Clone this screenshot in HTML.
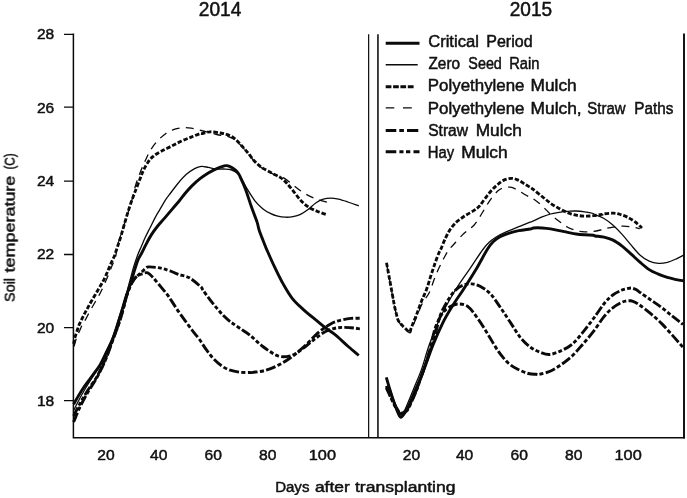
<!DOCTYPE html>
<html><head><meta charset="utf-8"><title>Soil temperature</title>
<style>
html,body{margin:0;padding:0;background:#fff;}
svg{display:block;font-family:"Liberation Sans",sans-serif;}
</style></head><body>
<svg width="687" height="498" viewBox="0 0 687 498">
<rect width="687" height="498" fill="#fff"/>
<g fill="#111" stroke="#111" stroke-width="0.5" stroke-linejoin="round" opacity="0.999" font-family="Liberation Sans, sans-serif">
<text x="198.8" y="16.2" font-size="19.8" textLength="42.6" lengthAdjust="spacingAndGlyphs">2014</text>
<text x="509.7" y="16.2" font-size="19.8" textLength="42.4" lengthAdjust="spacingAndGlyphs">2015</text>
<g font-size="15.4">
<text x="36.9" y="39.3" textLength="17.3" lengthAdjust="spacingAndGlyphs">28</text>
<text x="36.9" y="112.6" textLength="17.3" lengthAdjust="spacingAndGlyphs">26</text>
<text x="36.9" y="186.2" textLength="17.3" lengthAdjust="spacingAndGlyphs">24</text>
<text x="36.9" y="259.4" textLength="17.3" lengthAdjust="spacingAndGlyphs">22</text>
<text x="36.9" y="332.6" textLength="17.3" lengthAdjust="spacingAndGlyphs">20</text>
<text x="36.9" y="405.8" textLength="17.3" lengthAdjust="spacingAndGlyphs">18</text>
</g>
<g font-size="15.4">
<text x="97.2" y="460.2" textLength="17.4" lengthAdjust="spacingAndGlyphs">20</text>
<text x="150" y="460.2" textLength="17.4" lengthAdjust="spacingAndGlyphs">40</text>
<text x="204.6" y="460.2" textLength="17.4" lengthAdjust="spacingAndGlyphs">60</text>
<text x="259" y="460.2" textLength="17.4" lengthAdjust="spacingAndGlyphs">80</text>
<text x="308.8" y="460.2" textLength="27.2" lengthAdjust="spacingAndGlyphs">100</text>
<text x="402.8" y="460.2" textLength="17.4" lengthAdjust="spacingAndGlyphs">20</text>
<text x="455.9" y="460.2" textLength="17.4" lengthAdjust="spacingAndGlyphs">40</text>
<text x="510.5" y="460.2" textLength="17.4" lengthAdjust="spacingAndGlyphs">60</text>
<text x="565" y="460.2" textLength="17.4" lengthAdjust="spacingAndGlyphs">80</text>
<text x="614.5" y="460.2" textLength="27.2" lengthAdjust="spacingAndGlyphs">100</text>
</g>
<g font-size="15.4"><text x="275.14" y="491.5" textLength="34.29" lengthAdjust="spacingAndGlyphs">Days</text><text x="314.91" y="491.5" textLength="34.83" lengthAdjust="spacingAndGlyphs">after</text><text x="355.00" y="491.5" textLength="100.47" lengthAdjust="spacingAndGlyphs">transplanting</text></g>
<g font-size="15.4" transform="translate(14.7 302) rotate(-90)"><text x="0.11" y="0" textLength="23.95" lengthAdjust="spacingAndGlyphs">Soil</text><text x="29.60" y="0" textLength="96.74" lengthAdjust="spacingAndGlyphs">temperature</text><text x="132.40" y="0" textLength="16.33" lengthAdjust="spacingAndGlyphs">(C)</text></g>
<g font-size="16">
<text x="428.18" y="47.1" textLength="50.68" lengthAdjust="spacingAndGlyphs">Critical</text>
<text x="486.30" y="47.1" textLength="46.25" lengthAdjust="spacingAndGlyphs">Period</text>
<text x="428.46" y="69.1" textLength="31.63" lengthAdjust="spacingAndGlyphs">Zero</text>
<text x="468.35" y="69.1" textLength="33.51" lengthAdjust="spacingAndGlyphs">Seed</text>
<text x="509.18" y="69.1" textLength="30.22" lengthAdjust="spacingAndGlyphs">Rain</text>
<text x="427.85" y="91.3" textLength="96.65" lengthAdjust="spacingAndGlyphs">Polyethylene</text>
<text x="530.62" y="91.3" textLength="46.12" lengthAdjust="spacingAndGlyphs">Mulch</text>
<text x="427.85" y="113.7" textLength="96.65" lengthAdjust="spacingAndGlyphs">Polyethylene</text>
<text x="530.62" y="113.7" textLength="51.00" lengthAdjust="spacingAndGlyphs">Mulch,</text>
<text x="587.33" y="113.7" textLength="38.15" lengthAdjust="spacingAndGlyphs">Straw</text>
<text x="634.34" y="113.7" textLength="39.12" lengthAdjust="spacingAndGlyphs">Paths</text>
<text x="428.21" y="136" textLength="39.85" lengthAdjust="spacingAndGlyphs">Straw</text>
<text x="475.72" y="136" textLength="46.12" lengthAdjust="spacingAndGlyphs">Mulch</text>
<text x="427.77" y="157.8" textLength="26.35" lengthAdjust="spacingAndGlyphs">Hay</text>
<text x="461.31" y="157.8" textLength="46.33" lengthAdjust="spacingAndGlyphs">Mulch</text>
</g>
</g>
<g stroke="#0a0a0a" fill="none">
<!-- axes -->
<path d="M73.4 33.6 V437.7 H684.9" stroke-width="1.5"/>
<path d="M684 33.5 V438.4" stroke-width="1.9"/>
<path d="M64 34.3 H73.4 M64 107.2 H73.4 M64 181.2 H73.4 M64 254.5 H73.4 M64 327.6 H73.4 M64 400.7 H73.4" stroke-width="1.3"/>
<path d="M368.65 34.3 V437" stroke-width="1.2"/><path d="M377.95 34.3 V437" stroke-width="1.55"/>
<!-- legend samples -->
<path d="M385.7 43.3 H419.5" stroke-width="3"/>
<path d="M385.7 64.7 H417.7" stroke-width="1.35"/>
<path d="M385.7 86.7 H391.4 M393.1 86.7 H398.8 M400.4 86.7 H406.1 M407.8 86.7 H413.6" stroke-width="2.9"/>
<path d="M385.7 107.9 H394.3 M403 107.9 H411.8" stroke-width="1.35"/>
<path d="M385.7 130.4 H396.3 M399.3 130.4 H403.9 M407 130.4 H418.3" stroke-width="2.95"/>
<path d="M385.7 151.7 H396.3 M399.4 151.7 H403.5 M406 151.7 H410.3 M413.5 151.7 H419.5" stroke-width="2.95"/>
<!-- curves -->
<g stroke-linejoin="round">
<path d="M74.0 346.5C74.4 345.1 75.6 340.6 76.5 338.0C77.4 335.4 78.5 333.2 79.5 331.0C80.5 328.8 81.4 326.5 82.5 324.5C83.6 322.5 84.7 321.1 85.9 318.8C87.2 316.6 88.5 313.7 90.0 311.0C91.5 308.3 93.2 305.4 94.9 302.5C96.6 299.6 98.1 297.3 99.9 293.7C101.7 290.1 104.2 284.7 105.8 281.1C107.4 277.5 108.4 274.8 109.5 272.0C110.6 269.2 111.5 267.0 112.5 264.5C113.5 262.0 114.6 260.2 115.5 257.0C116.4 253.8 116.3 250.5 117.7 245.2C119.1 239.9 121.7 232.4 124.0 225.1C126.3 217.8 129.7 207.8 131.6 201.3C133.5 194.8 134.0 190.7 135.4 186.0C136.8 181.3 138.4 177.1 140.0 172.9C141.6 168.7 143.4 164.7 145.1 161.0C146.8 157.3 148.2 154.0 150.2 150.7C152.2 147.4 154.5 144.1 157.1 141.3C159.7 138.5 162.8 135.7 165.6 133.7C168.4 131.7 171.2 130.4 174.1 129.4C176.9 128.4 179.8 127.9 182.7 127.7C185.5 127.5 188.4 127.8 191.2 128.2C194.0 128.6 196.8 129.5 199.7 130.2C202.5 130.9 205.5 131.6 208.3 132.3C211.2 133.0 214.0 133.8 216.8 134.5C219.6 135.2 223.6 135.9 225.3 136.2C227.1 136.5 225.8 135.7 227.3 136.2C228.8 136.7 231.8 137.6 234.1 139.2C236.4 140.8 238.7 143.3 241.0 145.6C243.3 147.9 245.5 150.5 247.8 153.2C250.1 155.9 252.3 159.2 254.6 161.6C256.9 164.0 258.5 165.6 261.4 167.6C264.2 169.6 268.8 171.9 271.7 173.3C274.6 174.8 276.9 175.5 279.0 176.3C281.1 177.2 282.2 177.0 284.5 178.4C286.8 179.8 290.3 182.9 293.0 185.0C295.7 187.1 298.0 189.0 300.5 190.7C303.0 192.4 305.6 194.1 308.1 195.4C310.6 196.8 313.2 197.9 315.7 198.8C318.2 199.8 320.8 200.3 323.3 201.1C325.8 201.9 329.6 203.0 330.8 203.4" stroke-width="1.3" stroke-dasharray="7.9 6.3"/>
<path d="M73.6 344.0C73.7 343.7 73.8 343.3 74.0 342.2C74.2 341.1 74.5 339.0 75.0 337.2C75.5 335.4 76.3 333.1 77.0 331.1C77.7 329.1 78.2 327.0 79.0 325.1C79.8 323.2 80.7 321.5 81.6 319.6C82.5 317.7 83.6 315.5 84.6 313.6C85.6 311.7 86.5 310.1 87.6 308.1C88.7 306.1 89.9 303.8 91.2 301.5C92.5 299.2 94.2 296.4 95.5 294.2C96.8 292.0 97.9 290.1 99.1 288.1C100.3 286.1 101.5 284.1 102.6 282.1C103.7 280.1 104.6 278.3 105.6 276.1C106.6 273.9 107.6 271.5 108.6 269.1C109.6 266.8 110.6 264.3 111.6 262.0C112.6 259.7 113.7 257.9 114.6 255.5C115.5 253.1 116.3 250.2 117.2 247.5C118.1 244.8 119.0 242.4 120.0 239.3C121.0 236.2 122.0 232.4 123.0 228.9C124.0 225.4 125.1 221.8 126.0 218.6C126.9 215.4 127.7 212.8 128.6 210.0C129.5 207.2 130.4 204.3 131.4 201.5C132.4 198.7 133.2 196.8 134.6 193.0C136.0 189.2 138.5 182.7 140.0 178.9C141.5 175.1 142.1 173.0 143.4 170.3C144.7 167.6 146.1 165.0 147.7 162.7C149.3 160.4 150.7 158.5 152.8 156.7C154.9 154.8 157.5 153.3 160.5 151.6C163.5 149.9 167.3 148.2 170.7 146.5C174.1 144.8 177.6 142.9 181.0 141.3C184.4 139.7 188.1 138.4 191.2 137.1C194.3 135.8 197.9 134.3 199.7 133.7C201.4 133.1 199.9 133.9 201.7 133.6C203.4 133.3 207.1 131.9 210.2 131.8C213.3 131.7 217.7 132.5 220.5 133.0C223.3 133.5 225.0 133.8 227.3 134.7C229.6 135.6 231.8 136.5 234.1 138.2C236.4 139.9 238.7 142.6 241.0 145.0C243.3 147.4 245.5 150.0 247.8 152.7C250.1 155.4 252.3 158.8 254.6 161.2C256.9 163.6 258.5 165.2 261.4 167.2C264.2 169.2 268.6 171.4 271.7 173.1C274.8 174.8 277.7 175.8 280.2 177.4C282.7 179.1 284.3 180.7 286.5 183.0C288.7 185.3 291.2 188.5 293.5 191.3C295.8 194.2 298.1 197.5 300.5 200.1C302.9 202.7 305.2 204.9 308.1 206.8C311.0 208.7 314.5 210.2 317.6 211.5C320.8 212.8 325.4 214.2 327.0 214.7" stroke-width="2.85" stroke-dasharray="4.4 1.9"/>
<path d="M73.6 410.5C75.0 407.8 79.2 399.2 82.2 394.0C85.2 388.8 88.3 383.8 91.3 379.0C94.3 374.2 98.1 369.0 100.3 365.0C102.5 361.0 102.5 359.4 104.5 355.0C106.5 350.6 109.8 344.5 112.2 338.3C114.6 332.1 116.6 324.8 118.9 317.8C121.2 310.8 124.0 302.2 125.8 296.3C127.6 290.4 128.2 286.9 129.5 282.2C130.8 277.5 132.0 272.6 133.3 268.1C134.6 263.6 136.2 258.9 137.5 255.4C138.8 251.9 139.8 250.0 141.1 247.0C142.4 244.0 143.8 240.5 145.3 237.3C146.8 234.1 148.5 230.9 150.1 227.7C151.7 224.5 153.3 221.1 154.9 218.1C156.5 215.1 158.1 212.5 159.8 209.6C161.5 206.7 163.7 202.8 165.2 200.4C166.7 198.0 166.9 197.8 169.0 195.1C171.1 192.4 174.7 187.4 177.5 184.0C180.3 180.6 183.2 177.2 186.1 174.6C188.9 172.0 192.0 170.0 194.6 168.6C197.2 167.2 199.1 166.6 201.4 166.4C203.7 166.2 206.0 167.0 208.3 167.4C210.6 167.8 212.6 168.7 215.1 169.0C217.6 169.3 221.0 168.9 223.6 169.0C226.2 169.1 228.4 169.0 230.4 169.5C232.4 170.0 234.0 170.9 235.6 172.0C237.2 173.1 238.0 173.4 240.0 176.3C242.0 179.2 245.1 185.6 247.6 189.7C250.1 193.8 252.6 197.9 255.1 201.1C257.6 204.3 260.2 206.6 262.7 208.7C265.2 210.8 267.8 212.2 270.3 213.4C272.8 214.7 275.3 215.6 277.8 216.2C280.3 216.8 282.9 217.1 285.4 217.2C287.9 217.3 290.5 217.1 293.0 216.6C295.5 216.1 298.0 215.5 300.5 214.3C303.0 213.1 305.6 211.5 308.1 209.6C310.6 207.7 313.2 204.7 315.7 203.0C318.2 201.3 320.8 200.0 323.3 199.2C325.8 198.4 328.3 198.2 330.8 198.2C333.3 198.2 335.5 198.6 338.4 199.2C341.2 199.8 344.5 200.9 347.9 202.0C351.3 203.1 357.0 205.2 358.8 205.8" stroke-width="1.3"/>
<path d="M73.6 404.2C75.0 401.8 79.2 394.2 82.2 389.7C85.2 385.2 88.3 381.3 91.3 377.1C94.3 372.9 98.0 368.2 100.3 364.4C102.6 360.6 103.2 358.9 105.3 354.5C107.4 350.1 110.6 344.4 113.0 338.3C115.4 332.2 117.6 324.8 119.8 317.8C122.0 310.8 124.3 302.2 126.2 296.3C128.1 290.4 129.4 286.9 130.9 282.2C132.4 277.5 134.0 271.9 135.2 268.1C136.4 264.3 137.0 262.1 138.1 259.6C139.2 257.1 140.4 255.5 141.7 253.0C143.0 250.5 144.3 247.6 145.9 244.6C147.5 241.6 149.4 237.9 151.3 234.9C153.2 231.9 155.1 229.3 157.3 226.5C159.5 223.7 162.2 220.9 164.6 218.1C167.0 215.3 169.4 212.4 171.8 209.6C174.2 206.8 176.8 203.8 179.0 201.2C181.2 198.6 182.8 196.2 184.8 193.8C186.8 191.4 188.7 189.1 191.2 186.6C193.7 184.1 196.8 181.2 199.7 178.9C202.5 176.6 205.5 174.6 208.3 172.9C211.2 171.2 214.2 169.7 216.8 168.6C219.4 167.5 221.9 166.6 223.6 166.1C225.3 165.6 225.6 165.4 227.0 165.7C228.4 166.0 230.5 166.8 232.2 167.8C233.9 168.9 236.0 170.6 237.3 172.0C238.6 173.4 238.6 173.6 240.0 176.5C241.4 179.4 243.8 184.6 245.7 189.7C247.6 194.8 249.5 201.4 251.4 206.8C253.3 212.2 255.7 218.0 257.0 221.9C258.3 225.8 258.1 226.9 259.1 230.0C260.1 233.1 261.8 237.3 263.0 240.3C264.2 243.3 264.2 243.8 266.1 248.1C268.0 252.4 271.5 260.5 274.2 266.2C276.9 271.9 279.2 276.8 282.2 282.2C285.2 287.6 288.5 293.6 292.2 298.3C295.9 303.0 300.3 306.7 304.3 310.4C308.3 314.1 312.7 317.4 316.4 320.4C320.1 323.4 323.2 326.0 326.4 328.5C329.6 331.0 332.1 332.2 335.7 335.2C339.3 338.2 344.3 343.1 348.2 346.5C352.1 349.9 357.0 353.8 358.8 355.3" stroke-width="2.9"/>
<path d="M73.6 416.0C74.7 413.9 77.6 407.8 80.0 403.5C82.4 399.2 85.2 394.4 88.0 390.0C90.8 385.6 94.4 381.1 96.7 377.1C99.0 373.1 100.5 369.5 102.1 366.2C103.6 362.9 104.2 362.1 106.0 357.5C107.8 352.9 111.2 343.9 113.2 338.5C115.2 333.1 116.9 328.8 118.2 325.0C119.5 321.2 120.1 319.2 121.1 316.0C122.1 312.8 123.1 308.8 124.0 305.5C124.9 302.2 125.4 299.5 126.4 296.3C127.4 293.1 128.8 289.2 130.0 286.4C131.2 283.6 132.4 281.3 133.6 279.6C134.8 277.9 135.9 277.1 137.1 276.0C138.3 274.9 139.5 274.2 140.8 273.0C142.1 271.8 143.7 269.8 145.0 268.8C146.3 267.8 146.6 267.1 148.5 266.9C150.4 266.7 153.8 267.1 156.3 267.4C158.8 267.7 161.0 268.2 163.3 268.8C165.6 269.4 167.5 270.0 170.0 270.9C172.5 271.8 175.1 273.2 178.3 274.4C181.5 275.5 185.7 275.8 189.4 277.8C193.1 279.9 198.4 284.7 200.7 286.7C202.9 288.7 201.4 287.9 202.9 290.0C204.4 292.1 207.4 296.4 209.7 299.4C212.0 302.4 214.3 305.2 216.6 307.9C218.9 310.6 221.1 313.3 223.4 315.6C225.7 317.9 227.6 319.6 230.2 321.6C232.8 323.6 235.4 325.2 238.7 327.5C242.0 329.8 246.0 332.0 250.0 335.2C254.0 338.4 258.2 343.1 262.8 346.5C267.4 349.9 273.3 354.2 277.9 355.8C282.5 357.4 286.7 356.7 290.5 355.8C294.3 354.9 296.7 352.9 300.5 350.3C304.3 347.7 308.9 343.4 313.1 340.3C317.3 337.2 321.4 333.6 325.6 331.5C329.8 329.4 334.0 328.3 338.2 327.7C342.4 327.1 347.2 327.5 350.8 327.7C354.4 327.9 358.5 328.7 360.0 328.9" stroke-width="2.9" stroke-dasharray="9.5 2.2 3.9 2.2 3.9 2.2"/>
<path d="M73.6 422.0C74.7 419.5 77.6 412.0 80.0 407.0C82.4 402.0 85.2 396.8 88.0 392.0C90.8 387.2 94.3 382.2 96.7 378.0C99.1 373.8 100.7 370.3 102.3 367.0C103.9 363.7 104.4 362.8 106.3 358.0C108.2 353.2 111.4 344.0 113.4 338.5C115.4 333.0 117.1 328.8 118.4 325.0C119.7 321.2 120.3 319.2 121.3 316.0C122.3 312.8 123.3 308.8 124.2 305.5C125.1 302.2 125.6 299.5 126.6 296.3C127.6 293.1 129.0 289.1 130.2 286.4C131.4 283.6 132.6 281.5 133.8 279.8C135.0 278.1 135.9 277.0 137.3 276.0C138.7 275.0 140.4 274.4 142.2 273.9C143.9 273.4 145.9 272.1 147.8 272.8C149.7 273.5 151.3 275.7 153.4 278.0C155.5 280.3 158.2 283.6 160.5 286.4C162.8 289.2 165.6 292.3 167.5 294.9C169.4 297.5 170.3 299.0 172.2 301.9C174.1 304.8 176.7 308.9 179.0 312.2C181.3 315.5 183.5 318.5 185.8 321.6C188.1 324.7 190.4 328.0 192.7 331.0C195.0 334.0 197.2 336.4 199.5 339.5C201.8 342.6 204.0 346.6 206.3 349.7C208.6 352.8 210.5 355.6 213.1 358.3C215.7 361.0 218.8 363.9 221.7 365.9C224.5 367.9 227.1 369.1 230.2 370.2C233.3 371.3 237.1 371.9 240.4 372.3C243.7 372.7 247.9 372.5 250.0 372.5C252.1 372.5 250.2 372.8 252.8 372.4C255.4 372.0 261.1 371.6 265.3 370.4C269.5 369.2 273.7 367.5 277.9 365.4C282.1 363.3 285.9 361.1 290.5 357.8C295.1 354.5 300.9 349.5 305.5 345.3C310.1 341.1 313.9 336.3 318.1 332.7C322.3 329.1 326.9 326.0 330.7 323.9C334.5 321.8 337.3 321.1 340.7 320.2C344.1 319.3 347.6 318.7 350.8 318.4C354.0 318.1 358.5 318.2 360.0 318.2" stroke-width="2.9" stroke-dasharray="10 2.3 4.1 2.3"/>
<path d="M386.5 263.5C386.9 265.3 387.9 270.7 388.6 274.5C389.3 278.3 389.9 281.2 390.8 286.3C391.7 291.4 393.3 300.3 394.2 305.0C395.1 309.7 395.8 312.0 396.4 314.5C397.0 317.0 397.2 318.5 397.8 320.0C398.4 321.5 399.2 322.4 400.0 323.5C400.8 324.6 401.7 325.4 402.7 326.4C403.7 327.4 404.8 328.4 406.0 329.5C407.2 330.6 408.9 332.9 409.8 332.8C410.7 332.7 410.9 330.6 411.6 329.0C412.3 327.4 412.9 326.0 414.0 323.4C415.1 320.8 416.8 316.5 418.2 313.1C419.6 309.7 420.7 306.4 422.5 303.0C424.3 299.6 427.2 296.7 429.2 292.7C431.2 288.7 432.7 283.0 434.3 279.0C435.9 275.0 437.0 272.2 438.6 268.8C440.2 265.4 442.1 261.5 443.7 258.5C445.3 255.5 446.4 253.1 448.0 250.9C449.6 248.7 450.3 248.1 453.0 245.2C455.7 242.3 460.5 236.7 464.1 233.3C467.7 229.9 471.5 227.8 474.4 224.7C477.2 221.6 479.2 217.6 481.2 214.5C483.2 211.4 484.6 208.7 486.3 206.0C488.0 203.3 489.4 200.9 491.4 198.3C493.4 195.7 496.3 192.3 498.3 190.6C500.3 188.9 501.4 188.6 503.4 188.0C505.4 187.4 507.9 186.9 510.2 187.2C512.5 187.5 514.7 188.6 517.0 189.7C519.3 190.8 521.7 192.7 523.9 194.0C526.1 195.3 528.4 196.6 530.0 197.4C531.6 198.2 531.5 197.6 533.5 199.0C535.5 200.4 539.2 203.2 542.1 205.8C545.0 208.4 547.8 211.8 550.6 214.4C553.4 217.0 556.2 219.1 559.1 221.2C562.0 223.3 564.9 225.6 567.7 227.2C570.6 228.8 573.4 229.8 576.2 230.6C579.0 231.4 581.9 231.7 584.7 231.8C587.6 231.9 590.4 231.8 593.3 231.4C596.1 231.1 600.0 230.1 601.8 229.7C603.6 229.3 602.1 229.3 604.0 228.9C605.9 228.5 610.1 227.6 613.1 227.1C616.1 226.6 619.1 226.2 622.1 226.2C625.1 226.1 628.2 226.4 631.2 226.8C634.2 227.2 638.4 228.3 639.8 228.6" stroke-width="1.3" stroke-dasharray="7.9 6.3"/>
<path d="M386.5 262.8C386.9 264.7 387.9 270.2 388.6 274.0C389.3 277.8 389.9 280.7 390.8 285.8C391.7 290.9 393.3 299.9 394.2 304.6C395.1 309.3 395.8 311.5 396.4 314.0C397.0 316.5 397.2 318.0 397.8 319.5C398.4 321.0 399.2 321.9 400.0 323.0C400.8 324.1 401.7 324.9 402.7 325.9C403.7 326.9 404.9 327.9 406.0 329.0C407.1 330.1 408.8 332.4 409.6 332.3C410.4 332.2 410.4 330.0 411.0 328.5C411.6 327.0 412.0 326.0 413.0 323.4C414.0 320.8 415.8 316.8 417.2 313.1C418.6 309.4 419.9 305.2 421.5 301.2C423.1 297.2 425.0 293.5 426.6 289.2C428.2 284.9 429.5 280.0 430.9 275.6C432.3 271.2 433.8 266.8 435.2 262.8C436.6 258.8 438.4 254.1 439.4 251.7C440.4 249.3 440.1 250.8 441.1 248.6C442.1 246.4 443.8 241.7 445.4 238.4C447.0 235.1 448.5 231.8 450.5 229.0C452.5 226.2 454.8 223.6 457.3 221.3C459.9 219.0 463.0 217.2 465.8 215.3C468.6 213.5 472.1 211.8 474.4 210.2C476.7 208.6 477.8 207.8 479.5 206.0C481.2 204.2 482.8 201.5 484.6 199.1C486.5 196.7 488.6 193.8 490.6 191.5C492.6 189.2 494.5 187.3 496.6 185.5C498.7 183.7 500.8 181.6 503.4 180.4C505.9 179.2 509.3 178.3 511.9 178.3C514.5 178.3 516.4 179.4 518.7 180.4C521.0 181.4 523.7 183.5 525.6 184.6C527.5 185.7 529.1 186.7 530.0 187.2C530.9 187.7 530.2 187.2 530.8 187.6C531.4 188.0 531.6 188.1 533.5 189.6C535.4 191.1 539.2 194.2 542.1 196.5C545.0 198.8 547.8 201.3 550.6 203.3C553.4 205.3 556.2 206.8 559.1 208.4C562.0 210.0 564.9 211.6 567.7 212.7C570.6 213.8 573.4 214.6 576.2 215.2C579.0 215.8 581.9 216.0 584.7 216.1C587.6 216.2 590.4 216.0 593.3 215.7C596.1 215.4 600.0 214.7 601.8 214.4C603.6 214.1 602.1 214.0 604.0 213.8C605.9 213.6 610.4 213.1 613.1 213.2C615.8 213.3 617.9 213.8 620.3 214.5C622.7 215.2 625.1 216.0 627.5 217.2C629.9 218.4 632.4 219.9 634.8 221.7C637.2 223.5 640.8 226.9 642.0 228.0" stroke-width="2.85" stroke-dasharray="4.4 1.9"/>
<path d="M386.3 378.0C387.1 380.3 389.4 387.3 391.0 392.0C392.6 396.7 394.4 402.3 396.0 406.0C397.6 409.7 399.2 413.1 400.5 414.0C401.8 414.9 402.9 413.0 404.0 411.5C405.1 410.0 405.3 408.9 407.0 405.0C408.7 401.1 411.6 393.9 414.0 388.0C416.4 382.1 419.0 376.5 421.5 369.4C424.0 362.3 426.3 353.2 429.0 345.5C431.7 337.8 434.9 329.6 437.8 322.9C440.7 316.2 443.2 311.4 446.6 305.3C450.0 299.2 453.9 292.2 457.9 286.0C461.9 279.8 466.3 273.9 470.5 267.8C474.7 261.7 479.7 253.8 482.9 249.5C486.1 245.2 487.4 243.9 489.7 241.8C492.0 239.7 494.0 238.3 496.6 236.7C499.2 235.1 502.0 233.8 505.1 232.4C508.2 231.0 512.2 229.4 515.3 228.1C518.4 226.8 521.4 225.7 523.9 224.7C526.4 223.7 528.4 222.8 530.0 222.2C531.6 221.6 531.5 221.8 533.5 220.9C535.5 220.0 539.2 218.1 542.1 216.9C545.0 215.8 547.8 214.8 550.6 214.0C553.4 213.2 556.2 212.8 559.1 212.3C562.0 211.9 564.9 211.5 567.7 211.3C570.6 211.1 573.4 210.9 576.2 211.0C579.0 211.1 581.9 211.4 584.7 211.8C587.6 212.2 591.6 213.0 593.3 213.5C595.0 214.0 593.2 214.0 595.0 214.8C596.8 215.6 601.0 216.8 604.0 218.5C607.0 220.2 610.1 222.7 613.1 225.3C616.1 228.0 619.1 231.1 622.1 234.4C625.1 237.7 628.2 241.7 631.2 245.2C634.2 248.7 637.2 252.5 640.2 255.2C643.2 257.9 646.2 259.8 649.2 261.1C652.2 262.5 655.3 263.1 658.3 263.3C661.3 263.5 664.3 263.1 667.3 262.4C670.3 261.6 673.7 260.0 676.4 258.8C679.1 257.6 682.4 255.8 683.6 255.2" stroke-width="1.3"/>
<path d="M386.3 377.3C386.9 379.4 388.6 385.4 390.0 390.0C391.4 394.6 393.3 400.6 395.0 405.0C396.7 409.4 398.6 415.2 400.1 416.7C401.6 418.2 402.7 415.5 404.0 414.0C405.3 412.5 405.8 411.8 407.7 407.9C409.6 404.0 412.5 396.8 415.2 390.4C417.9 384.0 421.1 376.9 424.0 369.4C426.9 361.9 429.7 353.2 432.8 345.5C435.9 337.8 439.5 329.6 442.8 322.9C446.1 316.2 449.5 310.8 452.9 305.3C456.2 299.9 459.1 296.0 462.9 290.2C466.7 284.4 471.4 277.1 475.5 270.3C479.6 263.5 484.3 254.2 487.2 249.5C490.1 244.8 491.0 243.9 493.1 241.8C495.2 239.7 497.4 238.1 500.0 236.7C502.6 235.3 505.4 234.3 508.5 233.3C511.6 232.3 515.1 231.4 518.7 230.7C522.3 230.0 527.5 229.4 530.0 229.0C532.5 228.6 531.5 228.2 533.5 228.0C535.5 227.8 539.2 227.8 542.1 228.0C545.0 228.2 547.8 228.5 550.6 228.9C553.4 229.3 556.2 230.0 559.1 230.6C562.0 231.2 564.9 231.7 567.7 232.3C570.6 232.9 573.4 233.6 576.2 234.0C579.0 234.4 581.9 234.6 584.7 234.8C587.6 235.0 591.6 235.0 593.3 235.2C595.0 235.4 593.2 235.7 595.0 236.0C596.8 236.3 601.0 236.4 604.0 237.1C607.0 237.8 610.1 238.6 613.1 240.1C616.1 241.6 619.1 243.8 622.1 246.1C625.1 248.4 628.2 251.5 631.2 254.2C634.2 256.9 637.2 259.8 640.2 262.4C643.2 265.0 646.2 267.7 649.2 269.6C652.2 271.6 655.3 272.8 658.3 274.1C661.3 275.4 664.3 276.5 667.3 277.4C670.3 278.3 673.7 279.0 676.4 279.6C679.1 280.2 682.4 280.6 683.6 280.8" stroke-width="2.9"/>
<path d="M386.3 387.8C387.1 389.5 389.4 394.6 391.0 398.0C392.6 401.4 394.3 405.3 396.0 408.0C397.7 410.7 399.2 413.5 401.0 414.0C402.8 414.5 405.2 412.3 406.6 411.0C408.0 409.7 407.9 409.5 409.6 406.0C411.3 402.5 414.3 396.0 416.6 390.0C418.9 384.0 421.4 376.3 423.6 370.0C425.8 363.7 427.8 357.3 429.6 352.0C431.4 346.7 432.6 344.1 434.4 338.0C436.2 331.9 438.1 321.7 440.3 315.4C442.6 309.1 445.4 304.5 447.9 300.3C450.4 296.1 452.9 292.7 455.4 290.2C457.9 287.7 460.2 286.2 462.9 285.2C465.6 284.1 468.8 283.7 471.7 283.9C474.6 284.1 477.4 284.8 480.5 286.5C483.6 288.2 487.2 290.4 490.6 294.0C494.0 297.6 497.2 303.0 500.6 307.8C504.0 312.6 507.3 317.9 510.7 322.9C514.0 327.9 517.4 333.9 520.7 338.0C524.1 342.1 527.4 345.1 530.8 347.5C534.1 349.9 537.7 351.3 540.8 352.5C543.9 353.7 546.2 354.8 549.6 354.5C553.0 354.2 557.6 352.3 561.4 350.6C565.1 348.9 568.5 347.2 572.1 344.2C575.7 341.2 579.2 336.7 582.8 332.4C586.4 328.1 589.9 323.3 593.5 318.5C597.1 313.7 601.0 307.4 604.2 303.5C607.4 299.6 609.9 297.2 612.8 295.0C615.6 292.8 618.9 291.4 621.3 290.3C623.7 289.2 625.2 289.0 627.0 288.6C628.8 288.2 630.5 287.9 632.0 288.1C633.5 288.3 634.6 288.8 636.0 289.6C637.4 290.4 638.1 291.0 640.6 292.8C643.1 294.6 647.7 297.8 651.3 300.3C654.9 302.8 658.4 305.1 662.0 307.8C665.6 310.5 669.2 313.6 672.7 316.4C676.2 319.2 681.3 323.1 683.0 324.5" stroke-width="2.9" stroke-dasharray="9.5 2.2 3.9 2.2 3.9 2.2"/>
<path d="M386.3 386.0C387.1 387.8 389.4 393.5 391.0 397.0C392.6 400.5 394.4 404.3 396.0 407.0C397.6 409.7 398.8 412.4 400.5 413.0C402.2 413.6 404.6 411.8 406.1 410.5C407.6 409.2 407.9 408.5 409.6 405.0C411.4 401.5 414.3 395.4 416.6 389.5C418.9 383.6 421.4 375.9 423.6 369.5C425.8 363.1 427.7 357.9 429.6 351.0C431.6 344.1 433.1 334.3 435.3 327.9C437.5 321.5 440.3 316.4 442.8 312.8C445.3 309.2 447.9 308.1 450.4 306.6C452.9 305.1 455.0 304.0 457.9 304.0C460.8 304.0 464.6 304.1 468.0 306.6C471.4 309.1 474.6 314.2 478.0 318.9C481.4 323.6 484.8 329.2 488.1 334.6C491.5 340.0 494.8 346.3 498.1 351.0C501.5 355.7 504.8 359.9 508.2 363.0C511.6 366.1 514.9 367.8 518.2 369.5C521.6 371.2 525.3 372.7 528.3 373.5C531.3 374.3 534.0 374.2 536.0 374.3C538.0 374.4 537.5 374.8 540.0 374.2C542.5 373.6 547.1 372.6 550.7 371.0C554.3 369.4 557.8 367.0 561.4 364.5C565.0 362.0 568.5 359.4 572.1 356.0C575.7 352.6 579.2 348.3 582.8 344.2C586.4 340.1 589.9 336.0 593.5 331.4C597.1 326.8 601.0 320.3 604.2 316.4C607.4 312.5 609.9 310.1 612.8 307.8C615.6 305.5 619.1 303.6 621.3 302.5C623.5 301.4 624.4 301.3 626.0 301.0C627.6 300.7 629.3 300.6 630.9 300.8C632.5 301.1 633.9 301.7 635.5 302.5C637.1 303.3 638.0 303.8 640.6 305.7C643.2 307.6 647.7 311.2 651.3 314.2C654.9 317.2 658.4 320.3 662.0 323.9C665.6 327.5 669.2 331.7 672.7 335.6C676.2 339.5 681.3 345.4 683.0 347.4" stroke-width="2.9" stroke-dasharray="10 2.3 4.1 2.3"/>
</g>
</g>
</svg>
</body></html>
